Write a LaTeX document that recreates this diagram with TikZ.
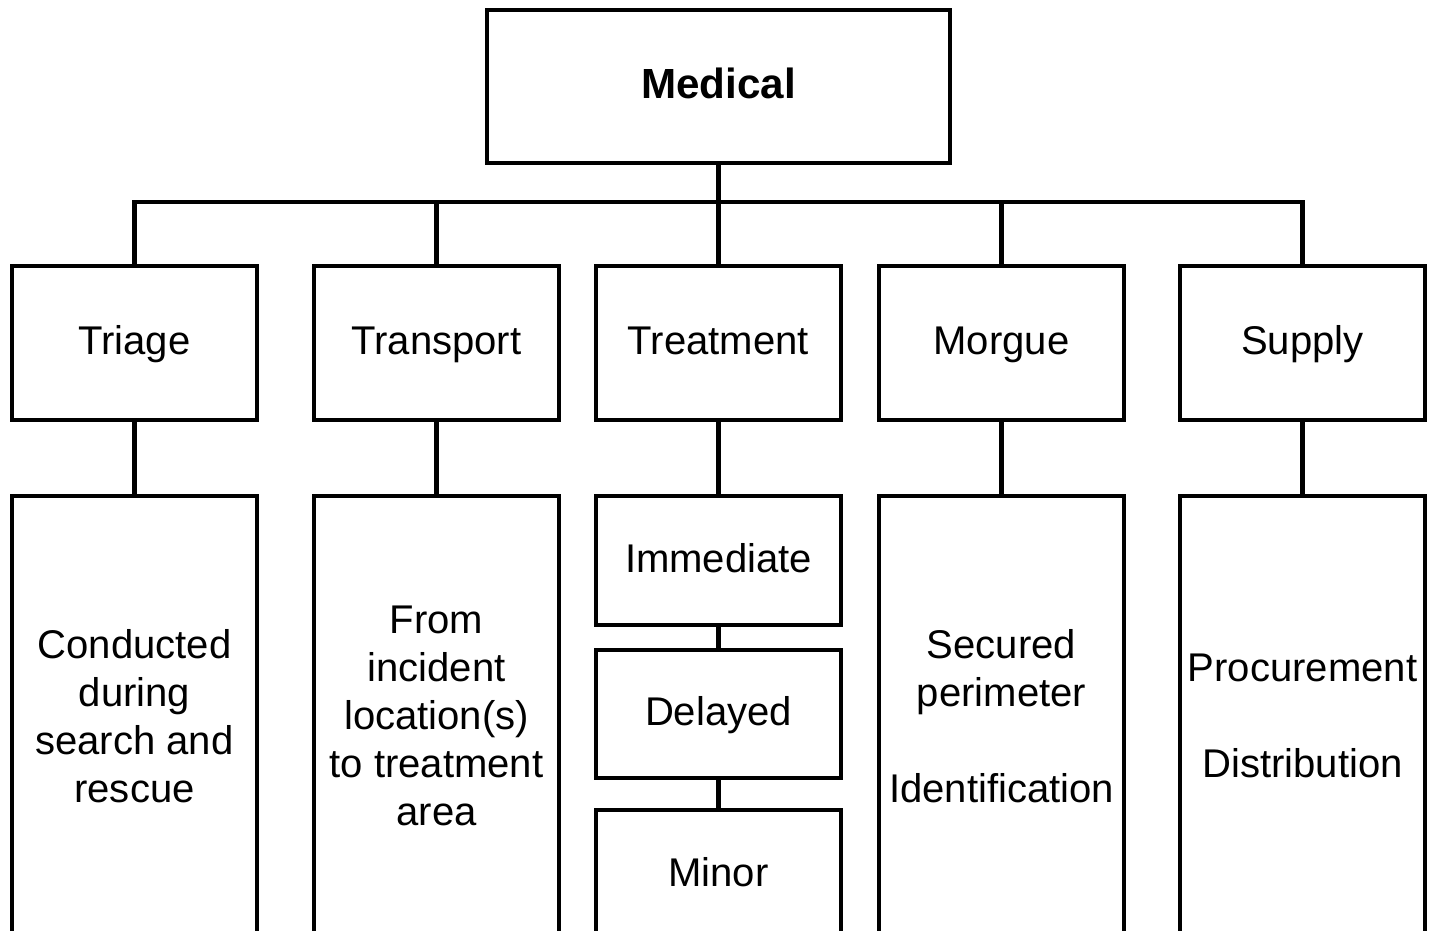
\documentclass[tikz,border=0pt]{standalone}
\usepackage{fontspec}
\setmainfont{Liberation Sans}
\usetikzlibrary{positioning}

\begin{document}
\begin{tikzpicture}[
    x=0.02cm, y=-0.02cm,
    node distance=1.52cm,
    box/.style={rectangle, draw, line width=0.09cm, minimum width=4.9cm, minimum height=3.08cm, align=center, inner sep=0pt, outer sep=0pt, text height=17pt, text depth=3.4pt, font=\fontsize{22.8pt}{27.3pt}\selectfont},
    tallbox/.style={box, minimum height=8.8cm, text height=, text depth=},
    line/.style={line width=0.09cm}
]
    \useasboundingbox (0,0) rectangle (1437,930);
    \clip (0,0) rectangle (1437,930);

    % Top level
    \node[box, minimum width=9.26cm, minimum height=3.06cm, font=\fontsize{24pt}{28pt}\selectfont\bfseries] (medical) at (718.5,86.5) {Medical};

    % Sections
    \node[box] (triage) at (134.5,343) {Triage};
    \node[box] (transport) at (436.5,343) {Transport};
    \node[box] (treatment) at (718.5,343) {Treatment};
    \node[box] (morgue) at (1001.5,343) {Morgue};
    \node[box] (supply) at (1302.5,343) {Supply};

    % Details
    \node[tallbox, below=of triage] (triagedet) {Conducted\\during\\search and\\rescue};
    \node[tallbox, below=of transport] (transportdet) {From\\incident\\location(s)\\to treatment\\area};
    \node[tallbox, below=of morgue] (morguedet) {Secured\\perimeter\\[27.3pt]Identification};
    \node[tallbox, below=of supply] (supplydet) {Procurement\\[27.3pt]Distribution};

    % Treatment categories
    \node[box, minimum height=2.58cm, below=of treatment] (immediate) {Immediate};
    \node[box, minimum height=2.56cm, below=0.5cm of immediate] (delayed) {Delayed};
    \node[box, minimum height=2.6cm, below=0.64cm of delayed] (minor) {Minor};

    % Connectors
    \foreach \sec in {triage, transport, treatment, morgue, supply}
        \draw[line] (medical.south) -- ++(0,39) -| (\sec.north);
    \foreach \sec/\det in {triage/triagedet, transport/transportdet, treatment/immediate, morgue/morguedet, supply/supplydet}
        \draw[line] (\sec) -- (\det);
    \draw[line] (immediate) -- (delayed);
    \draw[line] (delayed) -- (minor);

\end{tikzpicture}
\end{document}
